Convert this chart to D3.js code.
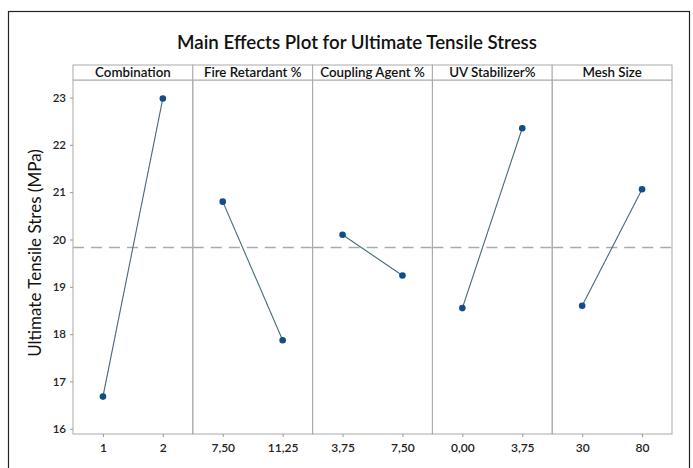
<!DOCTYPE html>
<html>
<head>
<meta charset="utf-8">
<script src="https://cdn.jsdelivr.net/npm/d3@7/dist/d3.min.js"></script>
<style>
  body { margin: 0; background: #fff; }
  svg { display: block; font-family: Lato, "Open Sans", sans-serif; }
</style>
</head>
<body>
<div id="chart"></div>
<script>
// factors and their levels
var factors = ["Combination", "Fire Retardant %", "Coupling Agent %", "UV Stabilizer%", "Mesh Size"];
var levels = [["1", "2"], ["7,50", "11,25"], ["3,75", "7,50"], ["0,00", "3,75"], ["30", "80"]];
// mean ultimate tensile stress per level
var means = [[16.68, 22.98], [20.80, 17.87], [20.10, 19.24], [18.55, 22.35], [18.60, 21.06]];
var grandMean = 19.83;
var yTicks = [16, 17, 18, 19, 20, 21, 22, 23];

var width = 693, height = 468;
var svg = d3.select("#chart").append("svg")
    .attr("width", width)
    .attr("height", height);

// outer frame
svg.append("rect")
    .attr("x", 8.5).attr("y", 11.5)
    .attr("width", 681).attr("height", 470)
    .attr("fill", "none")
    .attr("stroke", "#222")
    .attr("stroke-width", 1.2);

var plotTop = 80, plotBottom = 434, plotLeft = 73, plotRight = 672, stripTop = 65;

var panel = d3.scaleBand().domain(factors).range([plotLeft, plotRight]);
var y = d3.scaleLinear().domain([15.89, 23.37]).range([plotBottom, plotTop]);

//title
svg.append("text")
    .attr("x", 357)
    .attr("y", 49)
    .attr("text-anchor", "middle")
    .attr("font-size", 18.7)
    .attr("font-weight", 600)
    .attr("fill", "#111")
    .text("Main Effects Plot for Ultimate Tensile Stress");

// y axis label
svg.append("text")
    .attr("transform", "translate(41," + ((plotTop + plotBottom) / 2 - 4) + ") rotate(-90)")
    .attr("text-anchor", "middle")
    .attr("font-size", 17)
    .attr("fill", "#111")
    .text("Ultimate Tensile Stres (MPa)");

// y axis
var yAxis = svg.append("g")
    .attr("transform", "translate(" + plotLeft + ",0)")
    .call(d3.axisLeft(y).tickValues(yTicks).tickSize(3).tickPadding(4).tickFormat(d3.format("d")));
yAxis.select(".domain").remove();
yAxis.selectAll(".tick line").attr("stroke", "#999");
yAxis.selectAll("text").attr("font-size", 11.5).attr("fill", "#222")
    .attr("font-family", "Lato, sans-serif").attr("font-weight", 600);

factors.forEach(function (f, i) {
    var x0 = panel(f);
    var bw = panel.bandwidth();
    var g = svg.append("g").attr("transform", "translate(" + x0 + ",0)");
    var x = d3.scalePoint().domain(levels[i]).range([0, bw]).padding(0.5);

    // panel frame
    g.append("rect")
        .attr("x", 0).attr("y", plotTop)
        .attr("width", bw).attr("height", plotBottom - plotTop)
        .attr("fill", "none")
        .attr("stroke", "#aaa");

    // strip
    g.append("rect")
        .attr("x", 0).attr("y", stripTop)
        .attr("width", bw).attr("height", plotTop - stripTop)
        .attr("fill", "#fff")
        .attr("stroke", "#aaa");
    g.append("text")
        .attr("x", bw / 2)
        .attr("y", plotTop - 3)
        .attr("text-anchor", "middle")
        .attr("font-size", 13.3)
        .attr("font-weight", 600)
        .attr("fill", "#111")
        .text(f);

    // reference line
    g.append("line")
        .attr("x1", 0).attr("x2", bw)
        .attr("y1", y(grandMean)).attr("y2", y(grandMean))
        .attr("stroke", "#aaa")
        .attr("stroke-width", 1.5)
        .attr("stroke-dasharray", "11,7");

    // x axis
    var xAxis = g.append("g")
        .attr("transform", "translate(0," + plotBottom + ")")
        .call(d3.axisBottom(x).tickSize(3).tickPadding(6));
    xAxis.select(".domain").remove();
    xAxis.selectAll(".tick line").attr("stroke", "#999");
    xAxis.selectAll("text").attr("font-size", 12).attr("fill", "#222")
        .attr("font-family", "Lato, sans-serif").attr("font-weight", 600);

    var pts = levels[i].map(function (l, j) { return {l: l, v: means[i][j]}; });
    var line = d3.line()
        .x(function (d) { return x(d.l); })
        .y(function (d) { return y(d.v); });
    g.append("path")
        .attr("d", line(pts))
        .attr("fill", "none")
        .attr("stroke", "#456a78")
        .attr("stroke-width", 1.1);
    g.selectAll("circle").data(pts).enter().append("circle")
        .attr("cx", function (d) { return x(d.l); })
        .attr("cy", function (d) { return y(d.v); })
        .attr("r", 3.3)
        .attr("fill", "#114d86");
});
</script>
</body>
</html>
